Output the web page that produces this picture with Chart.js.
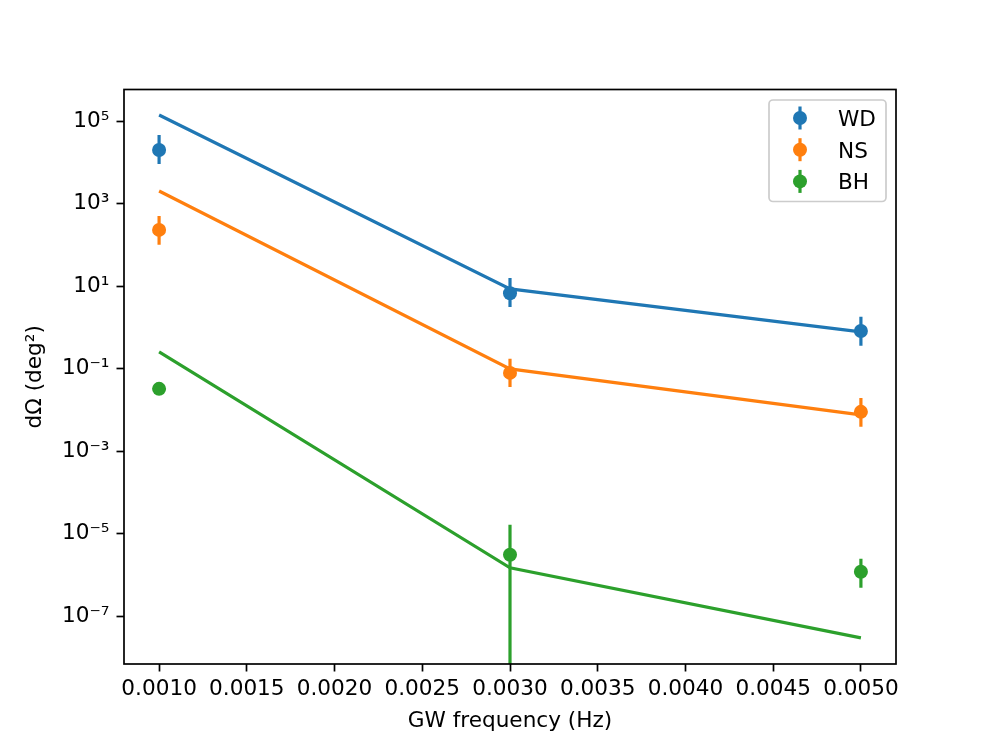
<!DOCTYPE html>
<html>
<head>
<meta charset="utf-8">
<script src="https://cdn.jsdelivr.net/npm/chart.js@4"></script>
<style>
  body { margin: 0; background: #fff; }
  canvas { display: block; }
</style>
</head>
<body>
<canvas id="chart" width="996" height="747"></canvas>
<script>
// GW frequencies (Hz)
const freqs = [0.001, 0.003, 0.005];

// measured sky localisation with asymmetric error bars, plus model curves
const wdValues = [1.99e4, 6.7, 0.82];
const wdLower = [9.1e3, 3.13, 0.36];
const wdUpper = [4.58e4, 15.8, 1.8];
const wdModel = [1.4e5, 8.55, 0.78];

const nsValues = [230, 0.079, 0.009];
const nsLower = [100, 0.036, 0.0039];
const nsUpper = [500, 0.173, 0.0196];
const nsModel = [2020, 0.099, 0.0076];

const bhValues = [0.0324, 3.1e-6, 1.2e-6];
const bhLower = [0.028, -1.0e-5, 4.9e-7];
const bhUpper = [0.037, 1.65e-5, 2.48e-6];
const bhModel = [0.255, 1.5e-6, 3.0e-8];

const xTicks = [0.0010, 0.0015, 0.0020, 0.0025, 0.0030, 0.0035, 0.0040, 0.0045, 0.0050];
const yTickExps = [-7, -5, -3, -1, 1, 3, 5];

const colors = { WD: '#1f77b4', NS: '#ff7f0e', BH: '#2ca02c' };

const pts = vals => freqs.map((f, i) => ({ x: f, y: vals[i] }));

const sup = { '-': '⁻', '0': '⁰', '1': '¹', '2': '²', '3': '³', '4': '⁴', '5': '⁵', '6': '⁶', '7': '⁷', '8': '⁸', '9': '⁹' };
const powLabel = e => '10' + String(e).split('').map(c => sup[c]).join('');

function seriesPair(label, values, lower, upper, model) {
  return [
    {
      type: 'line', label: label + ' model', data: pts(model),
      borderColor: colors[label], borderWidth: 3.2, pointRadius: 0,
      tension: 0, fill: false, order: 1
    },
    {
      type: 'line', label: label, data: pts(values), showLine: false,
      borderColor: colors[label], backgroundColor: colors[label],
      pointRadius: 7, pointBorderWidth: 0, order: 0,
      errLow: lower, errHigh: upper
    }
  ];
}

// vertical error bars, clipped to the axes box
const errorBars = {
  id: 'errorBars',
  beforeDatasetsDraw(chart) {
    const { ctx, chartArea, scales: { x, y } } = chart;
    ctx.save();
    ctx.beginPath();
    ctx.rect(chartArea.left, chartArea.top, chartArea.width, chartArea.height);
    ctx.clip();
    chart.data.datasets.forEach(ds => {
      if (!ds.errLow) return;
      ctx.strokeStyle = ds.borderColor;
      ctx.lineWidth = 3.2;
      ds.data.forEach((p, i) => {
        const px = x.getPixelForValue(p.x);
        const top = y.getPixelForValue(ds.errHigh[i]);
        const bot = ds.errLow[i] > 0 ? y.getPixelForValue(ds.errLow[i]) : chartArea.bottom;
        ctx.beginPath();
        ctx.moveTo(px, top);
        ctx.lineTo(px, bot);
        ctx.stroke();
      });
    });
    ctx.restore();
  }
};

// frame + matplotlib-style legend in upper right
const frameAndLegend = {
  id: 'frameAndLegend',
  afterDraw(chart) {
    const { ctx, chartArea } = chart;
    ctx.save();
    ctx.strokeStyle = '#000';
    ctx.lineWidth = 1.7;
    ctx.strokeRect(chartArea.left, chartArea.top, chartArea.width, chartArea.height);

    const bx = 769, by = 100, bw = 117, bh = 101.5;
    ctx.beginPath();
    ctx.roundRect(bx, by, bw, bh, 4);
    ctx.fillStyle = 'rgba(255,255,255,0.8)';
    ctx.fill();
    ctx.strokeStyle = '#cccccc';
    ctx.lineWidth = 1.7;
    ctx.stroke();

    const entries = chart.data.datasets.filter(ds => ds.errLow);
    ctx.font = '21.6px "DejaVu Sans"';
    ctx.textBaseline = 'alphabetic';
    entries.forEach((ds, i) => {
      const cy = 118 + i * 31.7;
      ctx.strokeStyle = ds.borderColor;
      ctx.lineWidth = 3.2;
      ctx.beginPath();
      ctx.moveTo(800, cy - 11.5);
      ctx.lineTo(800, cy + 11.5);
      ctx.stroke();
      ctx.fillStyle = ds.backgroundColor;
      ctx.beginPath();
      ctx.arc(800, cy, 7, 0, Math.PI * 2);
      ctx.fill();
      ctx.fillStyle = '#000';
      ctx.fillText(ds.label, 838, cy + 7.9);
    });
    ctx.restore();
  }
};

Chart.defaults.font.family = '"DejaVu Sans"';
Chart.defaults.font.size = 21.6;
Chart.defaults.color = '#000';

new Chart(document.getElementById('chart').getContext('2d'), {
  data: {
    datasets: [
      ...seriesPair('WD', wdValues, wdLower, wdUpper, wdModel),
      ...seriesPair('NS', nsValues, nsLower, nsUpper, nsModel),
      ...seriesPair('BH', bhValues, bhLower, bhUpper, bhModel)
    ]
  },
  options: {
    responsive: false,
    animation: false,
    layout: { padding: { left: 0, right: 100, top: 89.5, bottom: 0 } },
    plugins: { legend: { display: false }, tooltip: { enabled: false } },
    scales: {
      x: {
        type: 'linear',
        min: 0.0008,
        max: 0.0052,
        afterFit: s => { s.height = 83; },
        afterBuildTicks: s => { s.ticks = xTicks.map(v => ({ value: v })); },
        ticks: { padding: 5, maxRotation: 0, autoSkip: false, callback: v => v.toFixed(4) },
        grid: { drawOnChartArea: false, drawTicks: true, tickLength: 7.5, tickWidth: 1.7, tickColor: '#000' },
        border: { display: false },
        title: { display: true, text: 'GW frequency (Hz)', padding: { top: 0, bottom: 13 } }
      },
      y: {
        type: 'logarithmic',
        min: 7.1e-9,
        max: 5.8e5,
        afterFit: s => { s.width = 124; },
        afterBuildTicks: s => { s.ticks = yTickExps.map(e => ({ value: Math.pow(10, e) })); },
        ticks: { padding: 7, autoSkip: false, callback: v => powLabel(Math.round(Math.log10(v))) },
        grid: { drawOnChartArea: false, drawTicks: true, tickLength: 7.5, tickWidth: 1.7, tickColor: '#000' },
        border: { display: false },
        title: { display: true, text: 'dΩ (deg²)', padding: { top: 22, bottom: 0 } }
      }
    }
  },
  plugins: [errorBars, frameAndLegend]
});
</script>
</body>
</html>
